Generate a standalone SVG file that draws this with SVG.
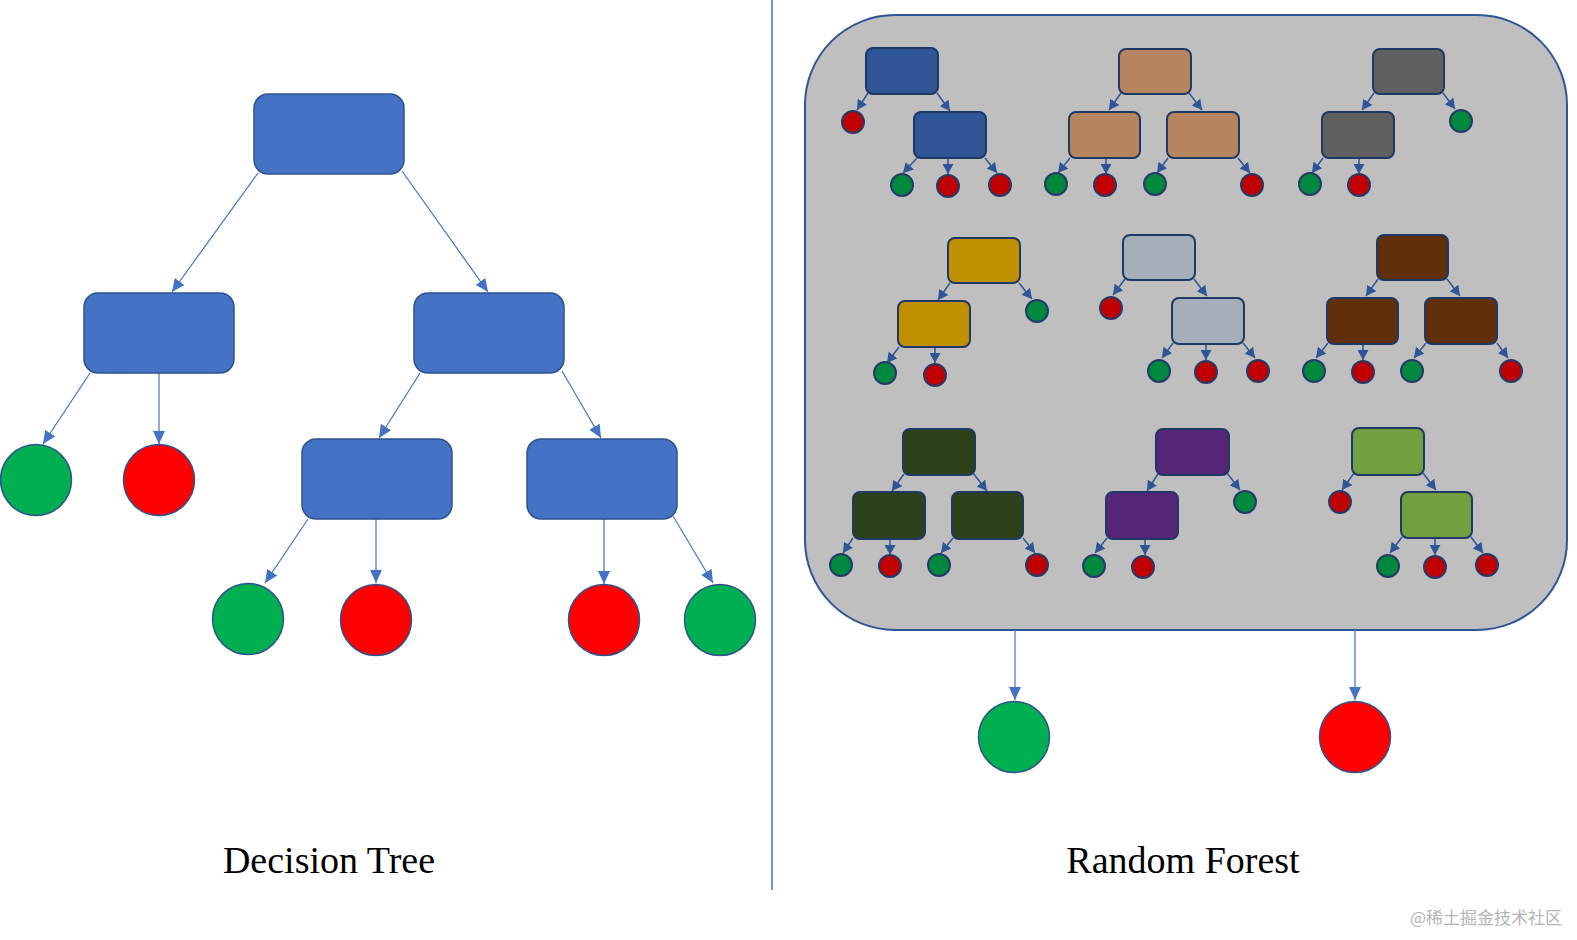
<svg xmlns="http://www.w3.org/2000/svg" width="1577" height="940" viewBox="0 0 1577 940">
<style>
.big{fill:#4472C4;stroke:#2F528F;stroke-width:1.5}
.bl{stroke:#4472C4;stroke-width:1.2;fill:none}
.sl{stroke:#2F5597;stroke-width:1.5;fill:none}
.gB{fill:#00B050;stroke:#2F528F;stroke-width:1.5}
.rB{fill:#FF0000;stroke:#2F528F;stroke-width:1.5}
.g{fill:#00883E;stroke:#263A68;stroke-width:2}
.r{fill:#C00000;stroke:#263A68;stroke-width:2}
.sb{stroke:#1F3864;stroke-width:2}
.t{font-family:"Liberation Serif",serif;font-size:38px;fill:#000}
</style>
<defs>
<marker id="ab" markerUnits="userSpaceOnUse" markerWidth="14" markerHeight="12" viewBox="0 0 14 12" refX="13" refY="6" orient="auto"><path d="M0,0 L13,6 L0,12 Z" fill="#4472C4"/></marker>
<marker id="as" markerUnits="userSpaceOnUse" markerWidth="11" markerHeight="11" viewBox="0 0 11 11" refX="10" refY="5.5" orient="auto"><path d="M0,0 L10,5.5 L0,11 Z" fill="#2F5597"/></marker>
</defs>
<rect width="1577" height="940" fill="#fff"/>
<line x1="772" y1="0" x2="772" y2="890" stroke="#4472C4" stroke-width="1.5"/>

<g id="connectors-dt" marker-end="url(#ab)">
<line class="bl" x1="258" y1="173" x2="172" y2="292"/>
<line class="bl" x1="402" y1="171" x2="488" y2="292"/>
<line class="bl" x1="90" y1="373" x2="43" y2="444"/>
<line class="bl" x1="159" y1="373" x2="159" y2="444"/>
<line class="bl" x1="420" y1="373" x2="379" y2="438"/>
<line class="bl" x1="562" y1="371" x2="601" y2="438"/>
<line class="bl" x1="308" y1="519" x2="265" y2="583"/>
<line class="bl" x1="376" y1="519" x2="376" y2="583"/>
<line class="bl" x1="604" y1="519" x2="604" y2="584"/>
<line class="bl" x1="673" y1="516" x2="713" y2="583"/>
</g>
<g id="dt-root"><rect class="big" x="254" y="94" width="150" height="80" rx="14"/></g>
<g id="dt-n1"><rect class="big" x="84" y="293" width="150" height="80" rx="14"/></g>
<g id="dt-n2"><rect class="big" x="414" y="293" width="150" height="80" rx="14"/></g>
<g id="dt-n3"><rect class="big" x="302" y="439" width="150" height="80" rx="14"/></g>
<g id="dt-n4"><rect class="big" x="527" y="439" width="150" height="80" rx="14"/></g>
<g id="dt-leaves">
<circle class="gB" cx="36" cy="480" r="35.5"/>
<circle class="rB" cx="159" cy="480" r="35.5"/>
<circle class="gB" cx="248" cy="619" r="35.5"/>
<circle class="rB" cx="376" cy="620" r="35.5"/>
<circle class="rB" cx="604" cy="620" r="35.5"/>
<circle class="gB" cx="720" cy="620" r="35.5"/>
</g>
<text class="t" x="329" y="873" text-anchor="middle">Decision Tree</text>

<g id="forest-panel"><rect x="805" y="15" width="762" height="615" rx="90" fill="#BFBFBF" stroke="#2F5597" stroke-width="2"/></g>

<g id="connectors-rf" class="sl" marker-end="url(#as)">
<line x1="1015" y1="630" x2="1015" y2="700" stroke="#4472C4" stroke-width="1.2" marker-end="url(#ab)"/>
<line x1="1355" y1="630" x2="1355" y2="700" stroke="#4472C4" stroke-width="1.2" marker-end="url(#ab)"/>
<line x1="868" y1="93" x2="857" y2="110"/>
<line x1="937" y1="93" x2="950" y2="111"/>
<line x1="917" y1="158" x2="903" y2="173"/>
<line x1="948" y1="158" x2="948" y2="174"/>
<line x1="985" y1="158" x2="997" y2="173"/>
<line x1="1121" y1="93" x2="1109" y2="110"/>
<line x1="1189" y1="93" x2="1202" y2="110"/>
<line x1="1070" y1="158" x2="1058" y2="173"/>
<line x1="1106" y1="158" x2="1106" y2="174"/>
<line x1="1168" y1="158" x2="1157" y2="173"/>
<line x1="1238" y1="158" x2="1250" y2="173"/>
<line x1="1374" y1="93" x2="1362" y2="110"/>
<line x1="1443" y1="93" x2="1455" y2="109"/>
<line x1="1323" y1="158" x2="1312" y2="173"/>
<line x1="1359" y1="158" x2="1359" y2="174"/>
<line x1="950" y1="283" x2="938" y2="300"/>
<line x1="1019" y1="283" x2="1032" y2="299"/>
<line x1="899" y1="347" x2="887" y2="363"/>
<line x1="935" y1="347" x2="935" y2="363"/>
<line x1="1125" y1="279" x2="1113" y2="295"/>
<line x1="1194" y1="279" x2="1207" y2="296"/>
<line x1="1173" y1="343" x2="1162" y2="358"/>
<line x1="1206" y1="344" x2="1206" y2="360"/>
<line x1="1243" y1="343" x2="1255" y2="358"/>
<line x1="1378" y1="279" x2="1366" y2="296"/>
<line x1="1447" y1="279" x2="1460" y2="296"/>
<line x1="1328" y1="343" x2="1316" y2="358"/>
<line x1="1363" y1="344" x2="1363" y2="360"/>
<line x1="1426" y1="343" x2="1414" y2="358"/>
<line x1="1497" y1="343" x2="1508" y2="358"/>
<line x1="904" y1="474" x2="892" y2="491"/>
<line x1="973" y1="473" x2="987" y2="491"/>
<line x1="853" y1="538" x2="843" y2="553"/>
<line x1="890" y1="539" x2="890" y2="555"/>
<line x1="953" y1="538" x2="941" y2="553"/>
<line x1="1023" y1="538" x2="1035" y2="553"/>
<line x1="1158" y1="474" x2="1147" y2="491"/>
<line x1="1227" y1="473" x2="1240" y2="490"/>
<line x1="1107" y1="538" x2="1095" y2="553"/>
<line x1="1145" y1="539" x2="1145" y2="555"/>
<line x1="1354" y1="473" x2="1342" y2="490"/>
<line x1="1423" y1="473" x2="1436" y2="490"/>
<line x1="1402" y1="537" x2="1390" y2="553"/>
<line x1="1435" y1="538" x2="1435" y2="555"/>
<line x1="1471" y1="537" x2="1483" y2="553"/>
</g>

<g id="rf-tree1" class="sb" fill="#2F5597">
<rect x="866" y="48" width="72" height="46" rx="7"/>
<rect x="914" y="112" width="72" height="46" rx="7"/>
<circle class="r" cx="853" cy="122" r="11"/>
<circle class="g" cx="902" cy="185" r="11"/>
<circle class="r" cx="948" cy="186" r="11"/>
<circle class="r" cx="1000" cy="185" r="11"/>
</g>
<g id="rf-tree2" class="sb" fill="#B4855F">
<rect x="1119" y="49" width="72" height="45" rx="7"/>
<rect x="1069" y="112" width="71" height="46" rx="7"/>
<rect x="1167" y="112" width="72" height="46" rx="7"/>
<circle class="g" cx="1056" cy="184" r="11"/>
<circle class="r" cx="1105" cy="185" r="11"/>
<circle class="g" cx="1155" cy="184" r="11"/>
<circle class="r" cx="1252" cy="185" r="11"/>
</g>
<g id="rf-tree3" class="sb" fill="#606060">
<rect x="1373" y="49" width="71" height="45" rx="7"/>
<rect x="1322" y="112" width="72" height="46" rx="7"/>
<circle class="g" cx="1461" cy="121" r="11"/>
<circle class="g" cx="1310" cy="184" r="11"/>
<circle class="r" cx="1359" cy="185" r="11"/>
</g>
<g id="rf-tree4" class="sb" fill="#BF9000">
<rect x="948" y="238" width="72" height="45" rx="7"/>
<rect x="898" y="301" width="72" height="46" rx="7"/>
<circle class="g" cx="1037" cy="311" r="11"/>
<circle class="g" cx="885" cy="373" r="11"/>
<circle class="r" cx="935" cy="375" r="11"/>
</g>
<g id="rf-tree5" class="sb" fill="#A5AFB9">
<rect x="1123" y="235" width="72" height="45" rx="7"/>
<rect x="1172" y="298" width="72" height="46" rx="7"/>
<circle class="r" cx="1111" cy="308" r="11"/>
<circle class="g" cx="1159" cy="371" r="11"/>
<circle class="r" cx="1206" cy="372" r="11"/>
<circle class="r" cx="1258" cy="371" r="11"/>
</g>
<g id="rf-tree6" class="sb" fill="#60300A">
<rect x="1377" y="235" width="71" height="45" rx="7"/>
<rect x="1327" y="298" width="71" height="46" rx="7"/>
<rect x="1425" y="298" width="72" height="46" rx="7"/>
<circle class="g" cx="1314" cy="371" r="11"/>
<circle class="r" cx="1363" cy="372" r="11"/>
<circle class="g" cx="1412" cy="371" r="11"/>
<circle class="r" cx="1511" cy="371" r="11"/>
</g>
<g id="rf-tree7" class="sb" fill="#2D421A">
<rect x="903" y="429" width="72" height="46" rx="7"/>
<rect x="853" y="492" width="72" height="47" rx="7"/>
<rect x="952" y="492" width="71" height="47" rx="7"/>
<circle class="g" cx="841" cy="565" r="11"/>
<circle class="r" cx="890" cy="566" r="11"/>
<circle class="g" cx="939" cy="565" r="11"/>
<circle class="r" cx="1037" cy="565" r="11"/>
</g>
<g id="rf-tree8" class="sb" fill="#552678">
<rect x="1156" y="429" width="73" height="46" rx="7"/>
<rect x="1106" y="492" width="72" height="47" rx="7"/>
<circle class="g" cx="1245" cy="502" r="11"/>
<circle class="g" cx="1094" cy="566" r="11"/>
<circle class="r" cx="1143" cy="567" r="11"/>
</g>
<g id="rf-tree9" class="sb" fill="#70A040">
<rect x="1352" y="428" width="72" height="47" rx="7"/>
<rect x="1401" y="492" width="71" height="46" rx="7"/>
<circle class="r" cx="1340" cy="502" r="11"/>
<circle class="g" cx="1388" cy="566" r="11"/>
<circle class="r" cx="1435" cy="567" r="11"/>
<circle class="r" cx="1487" cy="565" r="11"/>
</g>

<g id="rf-out-green"><circle class="gB" cx="1014" cy="737" r="35.5"/></g>
<g id="rf-out-red"><circle class="rB" cx="1355" cy="737" r="35.5"/></g>
<text class="t" x="1183" y="873" text-anchor="middle">Random Forest</text>
<text x="1562" y="924" text-anchor="end" font-family="'Noto Sans CJK SC',sans-serif" font-size="17" fill="#B5B5B5">@稀土掘金技术社区</text>
</svg>
